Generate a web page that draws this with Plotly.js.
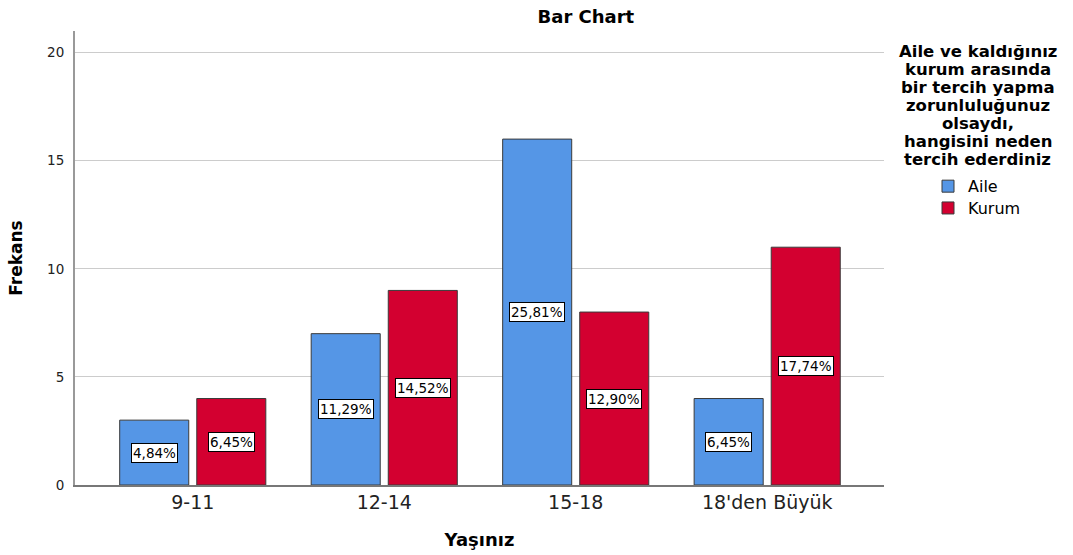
<!DOCTYPE html>
<html>
<head>
<meta charset="utf-8">
<script src="https://cdn.plot.ly/plotly-3.0.1.min.js"></script>
<style>html,body{margin:0;padding:0;background:#fff;}#chart{width:1073px;height:555px;}</style>
</head>
<body>
<div id="chart"></div>
<script>
var categories = ["9-11", "12-14", "15-18", "18'den Büyük"];
var aileValues = [3, 7, 16, 4];
var kurumValues = [4, 9, 8, 11];
var aileLabels = ["4,84%", "11,29%", "25,81%", "6,45%"];
var kurumLabels = ["6,45%", "14,52%", "12,90%", "17,74%"];
var yTicks = [0, 5, 10, 15, 20];
var legendTitleLines = ["Aile ve kaldığınız", "kurum arasında", "bir tercih yapma",
  "zorunluluğunuz", "olsaydı,", "hangisini neden", "tercih ederdiniz"];

var FONT = "DejaVu Sans, Verdana, sans-serif";

var traces = [
  {type: "bar", name: "Aile", x: categories, y: aileValues, legend: "legend",
   marker: {color: "#5596E6", line: {color: "#3a3a3a", width: 1}}, hoverinfo: "none"},
  {type: "bar", name: "Kurum", x: categories, y: kurumValues, legend: "legend2",
   marker: {color: "#D30030", line: {color: "#3a3a3a", width: 1}}, hoverinfo: "none"}
];

var annotations = [];
function addLabels(vals, labels, shift) {
  for (var i = 0; i < vals.length; i++) {
    annotations.push({
      xref: "x", yref: "y", x: categories[i], y: vals[i] / 2, xshift: shift,
      text: labels[i], showarrow: false,
      font: {family: FONT, size: 13.5, color: "#000"},
      bgcolor: "#ffffff", bordercolor: "#000000", borderwidth: 1, borderpad: 1
    });
  }
}
addLabels(aileValues, aileLabels, -38.5);
addLabels(kurumValues, kurumLabels, 38.5);

for (var j = 0; j < legendTitleLines.length; j++) {
  annotations.push({
    xref: "paper", yref: "paper", x: 1.116, y: 0.954, xanchor: "center", yanchor: "middle",
    yshift: -18 * j,
    text: "<b>" + legendTitleLines[j] + "</b>", showarrow: false,
    font: {family: FONT, size: 16.5, color: "#000"}
  });
}

var legendCommon = {
  x: 1.0544, xanchor: "left", yanchor: "middle",
  font: {family: FONT, size: 16, color: "#000"},
  bgcolor: "rgba(0,0,0,0)", itemwidth: 30, tracegroupgap: 0
};

var layout = {
  width: 1073, height: 555,
  margin: {l: 75, r: 189, t: 31, b: 70},
  paper_bgcolor: "#ffffff", plot_bgcolor: "#ffffff",
  font: {family: FONT, color: "#000"},
  title: {text: "<b>Bar Chart</b>", font: {family: FONT, size: 18, color: "#000"},
          xref: "container", x: 0.546, xanchor: "center", yref: "container", y: 0.970, yanchor: "middle"},
  barmode: "group", bargap: 0.195, bargroupgap: 0.104,
  xaxis: {
    type: "category", range: [-0.615, 3.61],
    showgrid: false, showline: true, linecolor: "#777777", linewidth: 1.5,
    ticks: "", tickfont: {family: FONT, size: 19, color: "#222"},
    title: {text: "<b>Yaşınız</b>", font: {family: FONT, size: 18, color: "#000"}, standoff: 21},
    zeroline: false, fixedrange: true
  },
  yaxis: {
    range: [0, 21], tickvals: yTicks, ticktext: yTicks.map(String),
    showgrid: true, gridcolor: "#cccccc", gridwidth: 1,
    showline: true, linecolor: "#999999", linewidth: 2,
    zeroline: false, ticks: "", ticklabelstandoff: 6,
    tickfont: {family: FONT, size: 13.5, color: "#222"},
    title: {text: "<b>Frekans</b>", font: {family: FONT, size: 17, color: "#000"}, standoff: 20},
    fixedrange: true
  },
  showlegend: true,
  legend: Object.assign({}, legendCommon, {y: 0.658}),
  legend2: Object.assign({}, legendCommon, {y: 0.610}),
  annotations: annotations
};

Plotly.newPlot("chart", traces, layout, {staticPlot: true, displayModeBar: false});
</script>
</body>
</html>
